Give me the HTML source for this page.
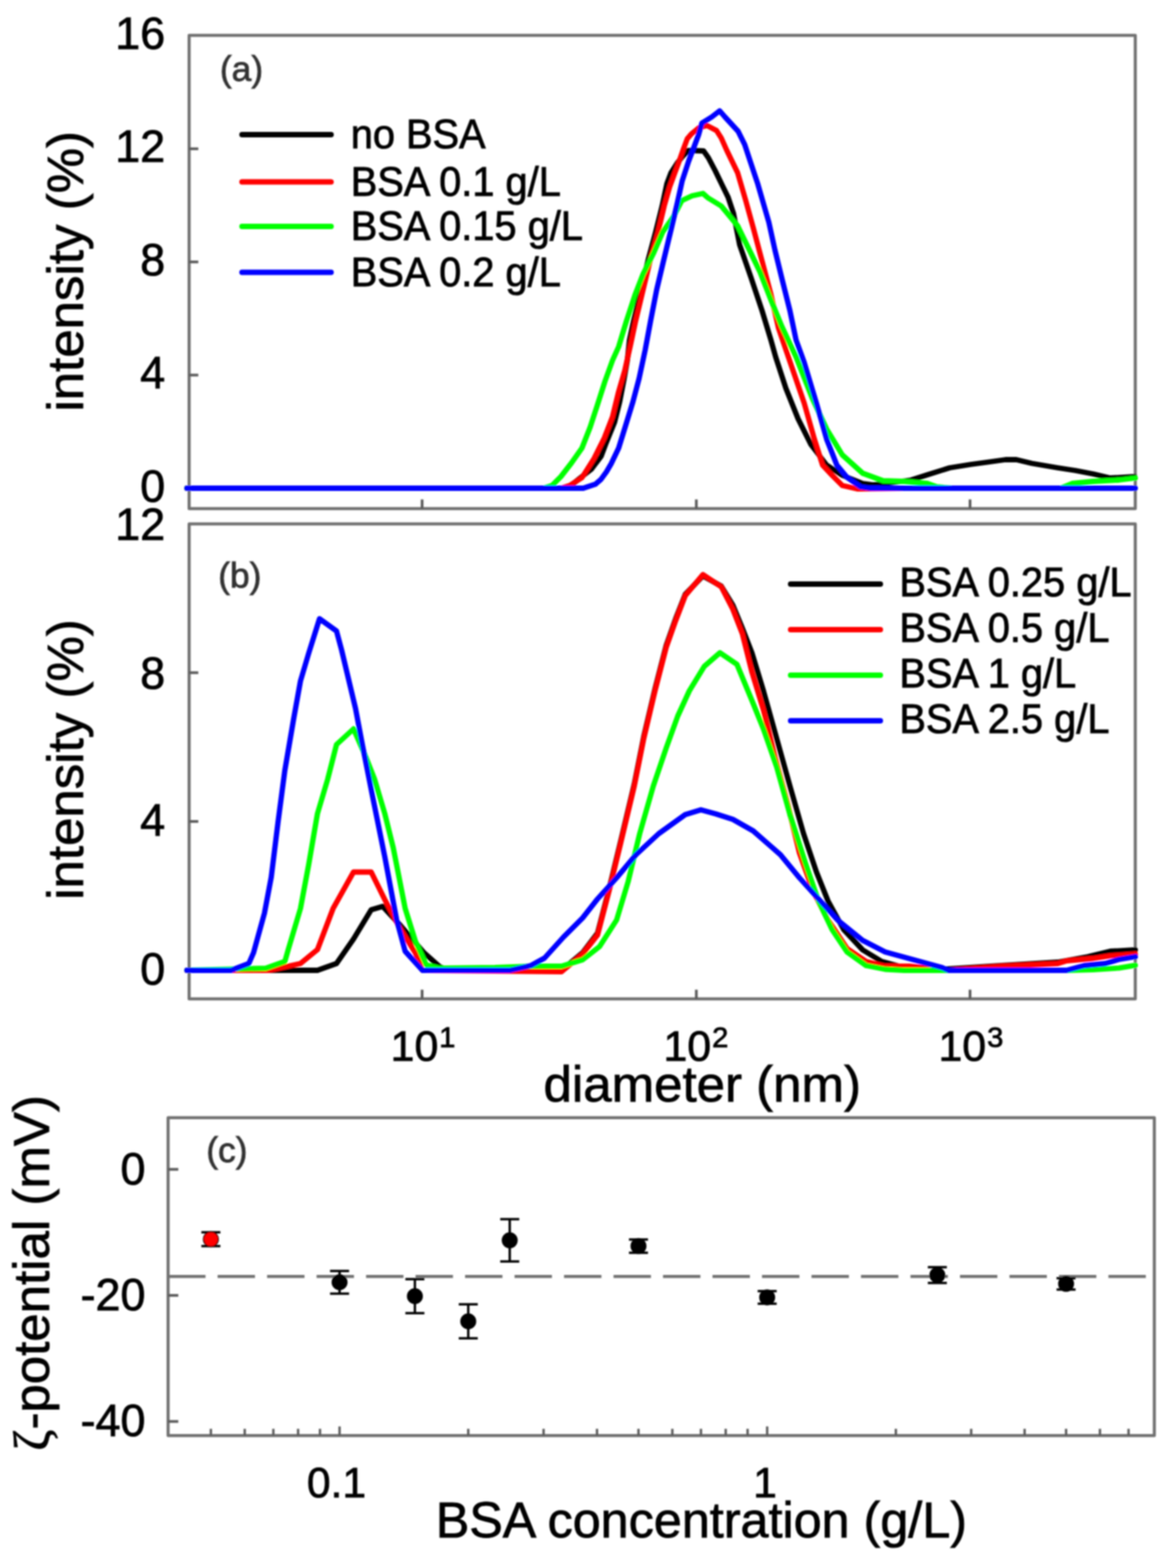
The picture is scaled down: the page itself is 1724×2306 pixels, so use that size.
<!DOCTYPE html>
<html><head><meta charset="utf-8"><title>figure</title>
<style>html,body{margin:0;padding:0;background:#fff;width:1724px;height:2306px;overflow:hidden;} svg{display:block;}</style>
</head><body>
<svg width="1724" height="2306" viewBox="0 0 1724 2306" font-family='"Liberation Sans", Arial, sans-serif'>
<defs><filter id="soft" filterUnits="userSpaceOnUse" x="0" y="0" width="1724" height="2306"><feGaussianBlur stdDeviation="0.85"/></filter></defs>
<rect width="1724" height="2306" fill="#fff"/>
<g filter="url(#soft)">
<clipPath id="ca"><rect x="270" y="52.0" width="1404.0" height="696.0"/></clipPath>
<clipPath id="cb"><rect x="270" y="770.5" width="1404.0" height="698.5"/></clipPath>
<rect x="278.2" y="52.0" width="1391.8" height="696.0" fill="none" stroke="#717171" stroke-width="4.5" stroke-linejoin="round"/>
<rect x="278.2" y="770.5" width="1391.8" height="698.5" fill="none" stroke="#717171" stroke-width="4.5" stroke-linejoin="round"/>
<rect x="247.3" y="1643.8" width="1450.7" height="467.5000000000002" fill="none" stroke="#717171" stroke-width="4.5" stroke-linejoin="round"/>
<line x1="278.2" y1="551.6" x2="291.7" y2="551.6" stroke="#5c5c5c" stroke-width="4.0" />
<line x1="278.2" y1="385.2" x2="291.7" y2="385.2" stroke="#5c5c5c" stroke-width="4.0" />
<line x1="278.2" y1="218.8" x2="291.7" y2="218.8" stroke="#5c5c5c" stroke-width="4.0" />
<line x1="278.2" y1="718.0" x2="291.7" y2="718.0" stroke="#5c5c5c" stroke-width="4.0" />
<line x1="278.2" y1="1208.1" x2="291.7" y2="1208.1" stroke="#5c5c5c" stroke-width="4.0" />
<line x1="278.2" y1="989.3" x2="291.7" y2="989.3" stroke="#5c5c5c" stroke-width="4.0" />
<line x1="278.2" y1="1426.9" x2="291.7" y2="1426.9" stroke="#5c5c5c" stroke-width="4.0" />
<line x1="620.9" y1="748.0" x2="620.9" y2="734.5" stroke="#5c5c5c" stroke-width="4.0" />
<line x1="620.9" y1="1469.0" x2="620.9" y2="1455.5" stroke="#5c5c5c" stroke-width="4.0" />
<line x1="1024.3" y1="748.0" x2="1024.3" y2="734.5" stroke="#5c5c5c" stroke-width="4.0" />
<line x1="1024.3" y1="1469.0" x2="1024.3" y2="1455.5" stroke="#5c5c5c" stroke-width="4.0" />
<line x1="1426.9" y1="748.0" x2="1426.9" y2="734.5" stroke="#5c5c5c" stroke-width="4.0" />
<line x1="1426.9" y1="1469.0" x2="1426.9" y2="1455.5" stroke="#5c5c5c" stroke-width="4.0" />
<line x1="247.3" y1="1719.7" x2="262.3" y2="1719.7" stroke="#5c5c5c" stroke-width="4.0" />
<line x1="247.3" y1="1905.1" x2="262.3" y2="1905.1" stroke="#5c5c5c" stroke-width="4.0" />
<line x1="247.3" y1="2090.5" x2="262.3" y2="2090.5" stroke="#5c5c5c" stroke-width="4.0" />
<line x1="310.2" y1="2111.3" x2="310.2" y2="2101.3" stroke="#5c5c5c" stroke-width="3.5" />
<line x1="360.0" y1="2111.3" x2="360.0" y2="2101.3" stroke="#5c5c5c" stroke-width="3.5" />
<line x1="402.1" y1="2111.3" x2="402.1" y2="2101.3" stroke="#5c5c5c" stroke-width="3.5" />
<line x1="438.5" y1="2111.3" x2="438.5" y2="2101.3" stroke="#5c5c5c" stroke-width="3.5" />
<line x1="470.7" y1="2111.3" x2="470.7" y2="2101.3" stroke="#5c5c5c" stroke-width="3.5" />
<line x1="499.5" y1="2111.3" x2="499.5" y2="2097.8" stroke="#5c5c5c" stroke-width="3.5" />
<line x1="688.8" y1="2111.3" x2="688.8" y2="2101.3" stroke="#5c5c5c" stroke-width="3.5" />
<line x1="799.6" y1="2111.3" x2="799.6" y2="2101.3" stroke="#5c5c5c" stroke-width="3.5" />
<line x1="878.2" y1="2111.3" x2="878.2" y2="2101.3" stroke="#5c5c5c" stroke-width="3.5" />
<line x1="939.2" y1="2111.3" x2="939.2" y2="2101.3" stroke="#5c5c5c" stroke-width="3.5" />
<line x1="989.0" y1="2111.3" x2="989.0" y2="2101.3" stroke="#5c5c5c" stroke-width="3.5" />
<line x1="1031.1" y1="2111.3" x2="1031.1" y2="2101.3" stroke="#5c5c5c" stroke-width="3.5" />
<line x1="1067.5" y1="2111.3" x2="1067.5" y2="2101.3" stroke="#5c5c5c" stroke-width="3.5" />
<line x1="1099.7" y1="2111.3" x2="1099.7" y2="2101.3" stroke="#5c5c5c" stroke-width="3.5" />
<line x1="1128.5" y1="2111.3" x2="1128.5" y2="2097.8" stroke="#5c5c5c" stroke-width="3.5" />
<line x1="1317.8" y1="2111.3" x2="1317.8" y2="2101.3" stroke="#5c5c5c" stroke-width="3.5" />
<line x1="1428.6" y1="2111.3" x2="1428.6" y2="2101.3" stroke="#5c5c5c" stroke-width="3.5" />
<line x1="1507.2" y1="2111.3" x2="1507.2" y2="2101.3" stroke="#5c5c5c" stroke-width="3.5" />
<line x1="1568.2" y1="2111.3" x2="1568.2" y2="2101.3" stroke="#5c5c5c" stroke-width="3.5" />
<line x1="1618.0" y1="2111.3" x2="1618.0" y2="2101.3" stroke="#5c5c5c" stroke-width="3.5" />
<line x1="1660.1" y1="2111.3" x2="1660.1" y2="2101.3" stroke="#5c5c5c" stroke-width="3.5" />
<g clip-path="url(#ca)">
<polyline points="275.0,718.0 828.0,718.0 840.0,714.0 852.0,704.0 870.0,690.0 884.3,671.0 891.8,651.0 904.0,621.0 911.5,591.0 917.5,560.0 922.8,530.0 926.0,500.0 932.0,472.0 943.0,426.0 954.0,380.0 964.5,341.0 974.0,303.0 981.0,270.0 987.0,254.0 996.0,240.0 1004.0,230.0 1012.0,221.5 1022.0,221.5 1035.0,222.0 1042.0,232.0 1052.0,251.0 1061.5,270.6 1071.0,290.0 1079.0,314.0 1088.0,360.0 1105.0,409.0 1121.0,457.0 1134.0,500.0 1141.0,525.0 1156.0,571.0 1174.0,616.0 1193.0,654.0 1216.0,684.0 1239.0,699.0 1269.0,711.0 1284.0,713.0 1310.0,710.0 1340.0,706.0 1365.0,698.0 1397.0,688.0 1428.0,683.0 1454.0,679.5 1479.0,676.0 1495.0,676.0 1518.0,681.5 1556.0,688.0 1582.0,692.0 1608.0,697.0 1633.0,703.0 1669.0,701.0" fill="none" stroke="#000000" stroke-width="7.8" stroke-linejoin="round" stroke-linecap="round"/>
<polyline points="275.0,718.0 826.0,718.0 838.0,714.0 856.0,702.5 874.0,674.0 889.0,644.0 901.0,613.0 910.0,576.0 919.0,545.0 928.0,505.0 935.0,472.0 946.0,426.0 957.0,380.0 968.0,341.0 977.0,303.0 985.0,275.0 992.0,256.0 998.0,240.0 1005.0,220.0 1011.0,204.0 1017.0,197.0 1028.0,188.0 1040.0,184.6 1054.0,192.0 1061.0,203.0 1069.0,221.0 1085.0,254.0 1097.0,295.0 1108.0,335.0 1121.0,384.0 1134.0,433.0 1145.0,482.0 1165.0,540.5 1183.0,593.0 1198.0,646.0 1210.0,684.0 1224.0,699.0 1239.0,714.0 1261.0,719.0 1330.0,718.0 1669.0,718.0" fill="none" stroke="#ff0000" stroke-width="7.8" stroke-linejoin="round" stroke-linecap="round"/>
<polyline points="275.0,718.0 800.0,718.0 812.0,714.0 825.0,701.0 840.5,681.0 856.0,659.0 868.0,628.5 878.0,598.0 890.0,560.5 901.0,530.0 910.0,510.0 921.5,472.0 934.0,434.0 946.0,403.0 961.5,372.0 975.0,341.0 991.0,318.0 1003.0,295.0 1018.0,288.0 1034.0,284.5 1041.0,290.7 1061.0,303.0 1085.0,332.0 1101.0,365.0 1118.0,400.0 1134.0,441.0 1150.0,480.0 1171.0,525.0 1195.0,586.0 1216.0,631.0 1239.0,669.0 1269.0,696.0 1299.0,707.0 1330.0,708.0 1364.0,711.0 1378.0,716.0 1400.0,718.0 1560.0,718.0 1577.0,711.0 1608.0,708.0 1646.0,706.0 1670.0,703.0" fill="none" stroke="#00ff00" stroke-width="7.8" stroke-linejoin="round" stroke-linecap="round"/>
<polyline points="275.0,718.0 858.0,718.0 876.0,712.0 884.0,705.0 892.0,694.0 899.0,682.0 910.0,659.0 919.0,630.0 931.0,591.0 940.0,557.0 949.0,515.0 957.0,472.0 966.0,426.0 975.0,388.0 988.0,334.0 996.0,300.0 1003.5,266.0 1013.0,237.0 1027.7,198.0 1032.5,181.0 1047.0,172.0 1058.6,163.0 1066.4,172.0 1085.7,193.0 1095.4,212.5 1105.0,241.5 1114.7,270.6 1131.0,327.0 1140.0,368.0 1150.0,409.0 1162.0,457.0 1171.0,500.0 1183.0,533.0 1201.0,593.0 1216.0,646.0 1231.0,684.0 1246.0,702.0 1266.0,716.0 1280.0,718.0 1670.0,718.0" fill="none" stroke="#0000ff" stroke-width="7.8" stroke-linejoin="round" stroke-linecap="round"/>
</g>
<g clip-path="url(#cb)">
<polyline points="275.0,1427.0 467.0,1427.0 495.0,1417.0 520.0,1381.0 546.0,1338.0 563.0,1333.0 589.0,1361.0 624.0,1401.5 647.0,1422.0 660.0,1427.0 826.0,1427.0 857.0,1401.0 879.0,1372.0 896.0,1307.0 913.0,1237.0 933.0,1153.0 947.0,1083.0 963.5,1013.0 980.0,949.0 994.0,909.5 1008.0,874.0 1034.0,847.0 1061.0,862.0 1078.0,890.0 1092.0,924.0 1106.0,960.0 1123.0,1016.0 1142.5,1086.0 1162.0,1156.0 1182.0,1226.0 1201.0,1282.5 1218.0,1325.0 1241.0,1367.0 1269.0,1397.0 1297.0,1414.0 1330.0,1423.0 1360.0,1427.0 1474.0,1420.0 1556.0,1415.0 1600.0,1407.0 1633.0,1399.0 1670.0,1397.0" fill="none" stroke="#000000" stroke-width="7.8" stroke-linejoin="round" stroke-linecap="round"/>
<polyline points="275.0,1427.0 396.0,1427.0 442.0,1417.0 467.0,1396.5 490.0,1336.0 520.0,1282.5 546.0,1282.5 566.0,1323.0 586.0,1361.0 611.0,1401.5 621.5,1427.0 826.0,1429.0 857.0,1403.0 879.0,1375.0 896.0,1310.0 913.0,1240.0 933.0,1156.0 947.0,1086.0 963.5,1016.0 980.0,952.0 994.0,912.5 1008.0,876.0 1034.0,845.0 1061.0,863.0 1078.0,896.0 1092.0,932.0 1106.0,988.0 1123.0,1044.0 1140.0,1114.0 1159.0,1184.0 1176.0,1254.5 1196.0,1310.5 1218.0,1353.0 1246.0,1395.0 1274.0,1414.0 1302.0,1421.0 1338.0,1421.0 1395.0,1427.0 1474.0,1421.0 1556.0,1417.0 1569.0,1413.0 1608.0,1409.5 1633.0,1405.6 1670.0,1403.0" fill="none" stroke="#ff0000" stroke-width="7.8" stroke-linejoin="round" stroke-linecap="round"/>
<polyline points="275.0,1427.0 391.0,1424.0 419.0,1414.0 424.0,1396.5 442.0,1336.0 454.0,1272.0 467.0,1196.5 482.0,1146.0 495.0,1095.0 520.0,1072.0 538.0,1113.0 551.0,1146.0 566.0,1196.5 578.5,1247.0 596.0,1336.0 611.0,1384.0 627.0,1419.0 647.0,1424.0 728.0,1423.0 784.0,1421.0 826.0,1421.0 857.0,1411.5 882.0,1392.0 907.0,1353.0 924.0,1296.5 941.0,1226.0 961.0,1156.0 980.0,1100.0 997.0,1053.0 1014.0,1016.0 1036.0,980.0 1059.0,960.0 1084.0,977.0 1106.0,1030.0 1123.0,1072.0 1142.5,1128.0 1162.0,1198.0 1184.5,1268.5 1204.0,1325.0 1224.0,1367.0 1246.0,1400.0 1274.0,1420.0 1302.0,1425.5 1330.0,1427.0 1569.0,1427.0 1608.0,1426.0 1646.0,1423.6 1670.0,1419.7" fill="none" stroke="#00ff00" stroke-width="7.8" stroke-linejoin="round" stroke-linecap="round"/>
<polyline points="275.0,1427.0 340.0,1427.0 366.0,1417.0 373.0,1401.0 389.0,1343.0 399.0,1290.0 409.0,1209.0 419.0,1133.0 432.0,1057.0 442.0,1001.5 454.0,961.0 470.0,910.0 495.0,928.0 502.5,956.0 523.0,1042.0 533.0,1095.0 548.0,1171.0 566.0,1260.0 583.5,1353.0 596.0,1399.0 621.5,1427.0 750.0,1427.0 781.0,1420.0 801.0,1409.0 829.0,1378.0 857.0,1350.0 879.0,1322.0 907.0,1291.0 935.5,1257.0 969.0,1226.0 1008.0,1198.0 1031.0,1191.0 1053.0,1197.0 1078.0,1205.0 1108.0,1222.0 1148.0,1257.0 1176.0,1291.0 1204.0,1322.0 1232.0,1353.0 1269.0,1383.0 1302.0,1400.0 1344.0,1411.5 1386.0,1423.0 1395.0,1427.0 1569.0,1427.0 1595.0,1420.0 1626.0,1417.0 1646.0,1411.0 1670.0,1407.0" fill="none" stroke="#0000ff" stroke-width="7.8" stroke-linejoin="round" stroke-linecap="round"/>
</g>
<text x="243.0" y="72.0" font-size="66" text-anchor="end" fill="#000" stroke="#000" stroke-width="1.1" >16</text>
<text x="243.0" y="238.4" font-size="66" text-anchor="end" fill="#000" stroke="#000" stroke-width="1.1" >12</text>
<text x="243.0" y="404.8" font-size="66" text-anchor="end" fill="#000" stroke="#000" stroke-width="1.1" >8</text>
<text x="243.0" y="571.2" font-size="66" text-anchor="end" fill="#000" stroke="#000" stroke-width="1.1" >4</text>
<text x="243.0" y="737.6" font-size="66" text-anchor="end" fill="#000" stroke="#000" stroke-width="1.1" >0</text>
<text x="243.0" y="794.1" font-size="66" text-anchor="end" fill="#000" stroke="#000" stroke-width="1.1" >12</text>
<text x="243.0" y="1012.9" font-size="66" text-anchor="end" fill="#000" stroke="#000" stroke-width="1.1" >8</text>
<text x="243.0" y="1228.7" font-size="66" text-anchor="end" fill="#000" stroke="#000" stroke-width="1.1" >4</text>
<text x="243.0" y="1447.5" font-size="66" text-anchor="end" fill="#000" stroke="#000" stroke-width="1.1" >0</text>
<text x="214.0" y="1742.0" font-size="66" text-anchor="end" fill="#000" stroke="#000" stroke-width="1.1" >0</text>
<text x="214.0" y="1927.0" font-size="66" text-anchor="end" fill="#000" stroke="#000" stroke-width="1.1" >-20</text>
<text x="214.0" y="2112.0" font-size="66" text-anchor="end" fill="#000" stroke="#000" stroke-width="1.1" >-40</text>
<text x="574.6" y="1560.0" font-size="63" text-anchor="start" fill="#000" stroke="#000" stroke-width="1.1" >10</text>
<text x="646.1" y="1539.5" font-size="43" text-anchor="start" fill="#000" stroke="#000" stroke-width="1.1" >1</text>
<text x="976.0" y="1560.0" font-size="63" text-anchor="start" fill="#000" stroke="#000" stroke-width="1.1" >10</text>
<text x="1047.5" y="1539.5" font-size="43" text-anchor="start" fill="#000" stroke="#000" stroke-width="1.1" >2</text>
<text x="1380.4" y="1560.0" font-size="63" text-anchor="start" fill="#000" stroke="#000" stroke-width="1.1" >10</text>
<text x="1451.9" y="1539.5" font-size="43" text-anchor="start" fill="#000" stroke="#000" stroke-width="1.1" >3</text>
<text x="1033.0" y="1620.0" font-size="75" text-anchor="middle" fill="#000" stroke="#000" stroke-width="1.1" >diameter (nm)</text>
<text x="495.0" y="2202.0" font-size="62.5" text-anchor="middle" fill="#000" stroke="#000" stroke-width="1.1" >0.1</text>
<text x="1125.5" y="2202.0" font-size="62.5" text-anchor="middle" fill="#000" stroke="#000" stroke-width="1.1" >1</text>
<text x="1031.7" y="2261.0" font-size="74" text-anchor="middle" fill="#000" stroke="#000" stroke-width="1.1" >BSA concentration (g/L)</text>
<text x="0.0" y="0.0" font-size="75" text-anchor="middle" fill="#000" stroke="#000" stroke-width="1.1" transform="translate(122,399) rotate(-90)">intensity (%)</text>
<text x="0.0" y="0.0" font-size="75" text-anchor="middle" fill="#000" stroke="#000" stroke-width="1.1" transform="translate(122,1117) rotate(-90)">intensity (%)</text>
<text x="0.0" y="0.0" font-size="75" text-anchor="middle" fill="#000" stroke="#000" stroke-width="1.1" transform="translate(72,1872) rotate(-90)"><tspan font-family="Liberation Serif, serif">ζ</tspan>-potential (mV)</text>
<text x="323.5" y="119.0" font-size="52" text-anchor="start" fill="#333" stroke="#333" stroke-width="1.1" >(a)</text>
<text x="321.0" y="864.0" font-size="52" text-anchor="start" fill="#333" stroke="#333" stroke-width="1.1" >(b)</text>
<text x="303.5" y="1709.0" font-size="52" text-anchor="start" fill="#333" stroke="#333" stroke-width="1.1" >(c)</text>
<line x1="356" y1="198" x2="487" y2="198" stroke="#000000" stroke-width="8" stroke-linecap="round"/>
<text x="0.0" y="0.0" font-size="58.5" text-anchor="start" fill="#000" stroke="#000" stroke-width="1.1" transform="translate(516 218.0) scale(1 1.06)">no BSA</text>
<line x1="356" y1="267.5" x2="487" y2="267.5" stroke="#ff0000" stroke-width="8" stroke-linecap="round"/>
<text x="0.0" y="0.0" font-size="58.5" text-anchor="start" fill="#000" stroke="#000" stroke-width="1.1" transform="translate(516 287.5) scale(1 1.06)">BSA 0.1 g/L</text>
<line x1="356" y1="333" x2="487" y2="333" stroke="#00ff00" stroke-width="8" stroke-linecap="round"/>
<text x="0.0" y="0.0" font-size="58.5" text-anchor="start" fill="#000" stroke="#000" stroke-width="1.1" transform="translate(516 353.0) scale(1 1.06)">BSA 0.15 g/L</text>
<line x1="356" y1="400.5" x2="487" y2="400.5" stroke="#0000ff" stroke-width="8" stroke-linecap="round"/>
<text x="0.0" y="0.0" font-size="58.5" text-anchor="start" fill="#000" stroke="#000" stroke-width="1.1" transform="translate(516 420.5) scale(1 1.06)">BSA 0.2 g/L</text>
<line x1="1163" y1="859" x2="1295" y2="859" stroke="#000000" stroke-width="8" stroke-linecap="round"/>
<text x="0.0" y="0.0" font-size="58.5" text-anchor="start" fill="#000" stroke="#000" stroke-width="1.1" transform="translate(1323 877.4) scale(1 1.06)">BSA 0.25 g/L</text>
<line x1="1163" y1="926" x2="1295" y2="926" stroke="#ff0000" stroke-width="8" stroke-linecap="round"/>
<text x="0.0" y="0.0" font-size="58.5" text-anchor="start" fill="#000" stroke="#000" stroke-width="1.1" transform="translate(1323 944.4) scale(1 1.06)">BSA 0.5 g/L</text>
<line x1="1163" y1="993" x2="1295" y2="993" stroke="#00ff00" stroke-width="8" stroke-linecap="round"/>
<text x="0.0" y="0.0" font-size="58.5" text-anchor="start" fill="#000" stroke="#000" stroke-width="1.1" transform="translate(1323 1011.4) scale(1 1.06)">BSA 1 g/L</text>
<line x1="1163" y1="1060" x2="1295" y2="1060" stroke="#0000ff" stroke-width="8" stroke-linecap="round"/>
<text x="0.0" y="0.0" font-size="58.5" text-anchor="start" fill="#000" stroke="#000" stroke-width="1.1" transform="translate(1323 1078.4) scale(1 1.06)">BSA 2.5 g/L</text>
<line x1="247.3" y1="1877.3" x2="1686" y2="1877.3" stroke="#717171" stroke-width="4.5" stroke-dasharray="55 17.8"/>
<line x1="310.2" y1="1812.3" x2="310.2" y2="1832.6" stroke="#000" stroke-width="3.5"/>
<line x1="296.2" y1="1812.3" x2="324.2" y2="1812.3" stroke="#000" stroke-width="3.5"/>
<line x1="296.2" y1="1832.6" x2="324.2" y2="1832.6" stroke="#000" stroke-width="3.5"/>
<circle cx="310.2" cy="1822.5" r="11" fill="#ff0000" stroke="#000" stroke-width="1.5"/>
<line x1="499.5" y1="1869.2" x2="499.5" y2="1902.5" stroke="#000" stroke-width="3.5"/>
<line x1="485.5" y1="1869.2" x2="513.5" y2="1869.2" stroke="#000" stroke-width="3.5"/>
<line x1="485.5" y1="1902.5" x2="513.5" y2="1902.5" stroke="#000" stroke-width="3.5"/>
<circle cx="499.5" cy="1885.8" r="11" fill="#000" stroke="#000" stroke-width="1.5"/>
<line x1="610.3" y1="1881.2" x2="610.3" y2="1931.2" stroke="#000" stroke-width="3.5"/>
<line x1="596.3" y1="1881.2" x2="624.3" y2="1881.2" stroke="#000" stroke-width="3.5"/>
<line x1="596.3" y1="1931.2" x2="624.3" y2="1931.2" stroke="#000" stroke-width="3.5"/>
<circle cx="610.3" cy="1906.2" r="11" fill="#000" stroke="#000" stroke-width="1.5"/>
<line x1="688.8" y1="1918.2" x2="688.8" y2="1968.2" stroke="#000" stroke-width="3.5"/>
<line x1="674.8" y1="1918.2" x2="702.8" y2="1918.2" stroke="#000" stroke-width="3.5"/>
<line x1="674.8" y1="1968.2" x2="702.8" y2="1968.2" stroke="#000" stroke-width="3.5"/>
<circle cx="688.8" cy="1943.2" r="11" fill="#000" stroke="#000" stroke-width="1.5"/>
<line x1="749.8" y1="1793.0" x2="749.8" y2="1855.2" stroke="#000" stroke-width="3.5"/>
<line x1="735.8" y1="1793.0" x2="763.8" y2="1793.0" stroke="#000" stroke-width="3.5"/>
<line x1="735.8" y1="1855.2" x2="763.8" y2="1855.2" stroke="#000" stroke-width="3.5"/>
<circle cx="749.8" cy="1824.1" r="11" fill="#000" stroke="#000" stroke-width="1.5"/>
<line x1="939.2" y1="1822.9" x2="939.2" y2="1842.4" stroke="#000" stroke-width="3.5"/>
<line x1="925.2" y1="1822.9" x2="953.2" y2="1822.9" stroke="#000" stroke-width="3.5"/>
<line x1="925.2" y1="1842.4" x2="953.2" y2="1842.4" stroke="#000" stroke-width="3.5"/>
<circle cx="939.2" cy="1832.6" r="11" fill="#000" stroke="#000" stroke-width="1.5"/>
<line x1="1128.5" y1="1898.8" x2="1128.5" y2="1917.3" stroke="#000" stroke-width="3.5"/>
<line x1="1114.5" y1="1898.8" x2="1142.5" y2="1898.8" stroke="#000" stroke-width="3.5"/>
<line x1="1114.5" y1="1917.3" x2="1142.5" y2="1917.3" stroke="#000" stroke-width="3.5"/>
<circle cx="1128.5" cy="1908.0" r="11" fill="#000" stroke="#000" stroke-width="1.5"/>
<line x1="1378.8" y1="1863.6" x2="1378.8" y2="1886.8" stroke="#000" stroke-width="3.5"/>
<line x1="1364.8" y1="1863.6" x2="1392.8" y2="1863.6" stroke="#000" stroke-width="3.5"/>
<line x1="1364.8" y1="1886.8" x2="1392.8" y2="1886.8" stroke="#000" stroke-width="3.5"/>
<circle cx="1378.8" cy="1875.2" r="11" fill="#000" stroke="#000" stroke-width="1.5"/>
<line x1="1568.2" y1="1879.8" x2="1568.2" y2="1896.5" stroke="#000" stroke-width="3.5"/>
<line x1="1554.2" y1="1879.8" x2="1582.2" y2="1879.8" stroke="#000" stroke-width="3.5"/>
<line x1="1554.2" y1="1896.5" x2="1582.2" y2="1896.5" stroke="#000" stroke-width="3.5"/>
<circle cx="1568.2" cy="1888.1" r="11" fill="#000" stroke="#000" stroke-width="1.5"/>
</g></svg>
</body></html>
